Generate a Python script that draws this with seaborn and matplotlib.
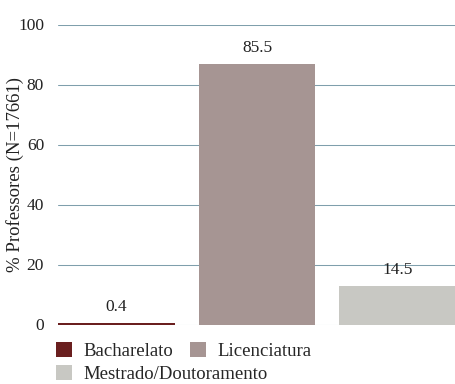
import matplotlib
matplotlib.use("Agg")
import matplotlib.pyplot as plt
import seaborn as sns
import pandas as pd
from matplotlib.patches import Patch

categories = ["Bacharelato", "Licenciatura", "Mestrado/Doutoramento"]
values = [0.4, 86.8, 12.8]
value_labels = ["0.4", "85.5", "14.5"]
colors = ["#6a1f1f", "#a69593", "#c8c8c3"]
yticks = [0, 20, 40, 60, 80, 100]

sns.set_theme(style="white")
plt.rcParams["font.family"] = ["Liberation Serif", "DejaVu Serif"]

df = pd.DataFrame({"cat": categories, "val": values})

fig = plt.figure(figsize=(4.56, 3.84), dpi=100)
ax = fig.add_axes([58 / 456, 1 - 324.5 / 384, 398 / 456, 300 / 384])

ax.set_axisbelow(True)
for t in yticks:
    ax.axhline(t, color="#7f9fac", lw=0.75, zorder=0)

sns.barplot(data=df, x="cat", y="val", hue="cat", palette=colors,
            width=0.83, legend=False, ax=ax, saturation=1, zorder=2, linewidth=0)

for i, (v, lab) in enumerate(zip(values, value_labels)):
    ax.annotate(lab, (i, v), xytext=(0, 6), textcoords="offset points",
                ha="center", va="bottom", fontsize=12.5, color="#222222")

ax.set_xlim(-0.415, 2.415)
ax.set_ylim(0, 100)
ax.set_yticks(yticks)
ax.set_yticklabels([str(t) for t in yticks], fontsize=12.5, color="#222222")
ax.tick_params(axis="y", length=0, pad=10)
ax.set_xticks([])
ax.set_xlabel("")
ax.set_ylabel("% Professores (N=17661)", fontsize=13.5, color="#222222")
ax.yaxis.set_label_coords(-34 / 398, 0.5)
for s in ax.spines.values():
    s.set_visible(False)

handles = [Patch(facecolor=c, edgecolor="none") for c in colors]
leg_kw = dict(loc="upper left", frameon=False, fontsize=13.5, handlelength=0.85,
              handleheight=0.85, handletextpad=0.6, columnspacing=0.9,
              borderaxespad=0, borderpad=0)
leg1 = fig.legend(handles[:2], categories[:2], ncol=2,
                  bbox_to_anchor=(56 / 456, 1 - 342 / 384), **leg_kw)
leg2 = fig.legend(handles[2:], categories[2:], ncol=1,
                  bbox_to_anchor=(56 / 456, 1 - 365 / 384), **leg_kw)

fig.savefig("out.png", dpi=100)
